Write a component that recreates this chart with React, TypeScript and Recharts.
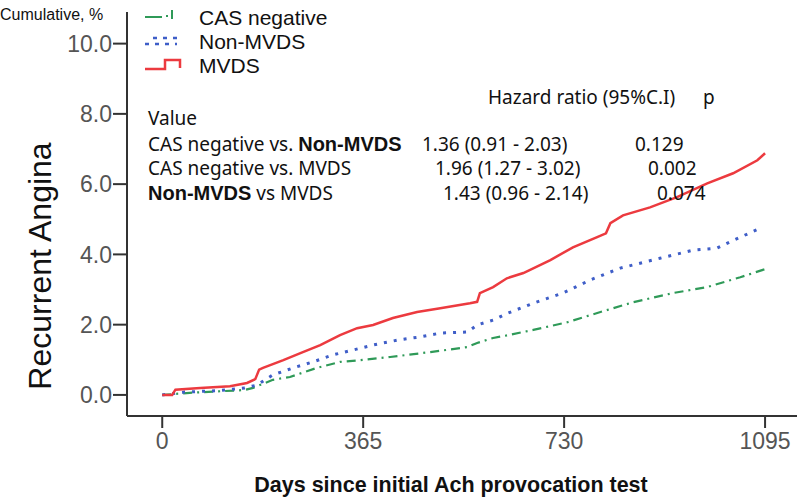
import { LineChart, Line, XAxis, YAxis } from "recharts";

// Kaplan-Meier style cumulative incidence (days, %)
const casNegDays = [0, 50, 100, 150, 165, 201, 232, 281, 323, 360, 414, 487, 554, 572, 601, 628, 674, 736, 796, 856, 928, 990, 1050, 1095];
const casNegVals = [0, 0.06, 0.1, 0.14, 0.2, 0.43, 0.51, 0.77, 0.94, 0.99, 1.08, 1.22, 1.36, 1.48, 1.62, 1.7, 1.85, 2.07, 2.36, 2.64, 2.9, 3.07, 3.35, 3.58];

const nonMvdsDays = [0, 40, 100, 150, 172, 201, 238, 274, 310, 347, 383, 427, 468, 505, 554, 572, 601, 628, 674, 728, 777, 832, 904, 964, 1008, 1037, 1090];
const nonMvdsVals = [0, 0.08, 0.12, 0.2, 0.28, 0.57, 0.77, 0.94, 1.14, 1.28, 1.42, 1.56, 1.65, 1.76, 1.79, 1.99, 2.13, 2.33, 2.61, 2.9, 3.27, 3.61, 3.89, 4.12, 4.18, 4.4, 4.77];

const mvdsDays = [0, 18, 24, 69, 123, 154, 169, 176, 183, 220, 251, 287, 323, 354, 383, 419, 463, 505, 559, 572, 577, 601, 626, 656, 705, 746, 790, 806, 814, 837, 886, 935, 990, 1037, 1081, 1095];
const mvdsVals = [0, 0.0, 0.15, 0.2, 0.25, 0.34, 0.45, 0.72, 0.77, 0.99, 1.19, 1.42, 1.7, 1.9, 1.99, 2.19, 2.36, 2.47, 2.61, 2.65, 2.9, 3.07, 3.32, 3.47, 3.84, 4.2, 4.49, 4.6, 4.89, 5.11, 5.34, 5.63, 6.02, 6.31, 6.68, 6.88];

const xTicks = [0, 365, 730, 1095];
const yTicks = [0, 2, 4, 6, 8, 10];

const legendNames = ["CAS negative", "Non-MVDS", "MVDS"];

const hazardRows = [
  { label: "CAS negative vs. ", bold: "Non-MVDS", rest: "", hr: "1.36 (0.91 - 2.03)", p: "0.129" },
  { label: "CAS negative vs. MVDS", bold: "", rest: "", hr: "1.96 (1.27 - 3.02)", p: "0.002" },
  { label: "", bold: "Non-MVDS", rest: " vs MVDS", hr: "1.43 (0.96 - 2.14)", p: "0.074" },
];

const toPoints = (days: number[], vals: number[]) =>
  days.map((d, i) => ({ day: d, value: vals[i] }));

const RED = "#ec3a3f";
const BLUE = "#3f5ec8";
const GREEN = "#2f9a58";

const tableFont = "'Noto Sans', 'Open Sans', sans-serif";
const tickFont = "'Liberation Sans Narrow', 'Arial Narrow', 'Liberation Sans', sans-serif";

function Txt({
  x,
  y,
  size,
  children,
  style,
}: {
  x: number;
  y: number;
  size: number;
  children: React.ReactNode;
  style?: React.CSSProperties;
}) {
  const lh = Math.round(size * 0.9);
  return (
    <div
      style={{
        position: "absolute",
        left: x,
        top: y - lh / 2,
        fontSize: size,
        lineHeight: `${lh}px`,
        whiteSpace: "nowrap",
        color: "#111",
        ...style,
      }}
    >
      {children}
    </div>
  );
}

export default function App() {
  const rowY = [144, 168, 193];
  const hrX = [422, 435, 443];
  const pX = [635, 648, 657];
  const legendY = [17.5, 41, 65];
  return (
    <div
      style={{
        position: "absolute",
        left: 0,
        top: 0,
        width: 800,
        height: 499,
        background: "#fff",
        fontFamily: "'Liberation Sans', Arial, sans-serif",
      }}
    >
      <LineChart
        width={800}
        height={499}
        margin={{ top: 12, right: 3, bottom: 0, left: 0 }}
      >
        <XAxis
          type="number"
          dataKey="day"
          domain={[-64, 1153]}
          ticks={xTicks}
          height={83}
          tickSize={12}
          tickMargin={5}
          stroke="#333"
          strokeWidth={2}
          tick={{ fontSize: 23, fill: "#555", fontFamily: tickFont }}
          allowDataOverflow
        />
        <YAxis
          type="number"
          domain={[-0.6, 10.9]}
          ticks={yTicks}
          width={127}
          tickSize={14}
          tickMargin={1}
          stroke="#333"
          strokeWidth={2}
          tick={{ fontSize: 23, fill: "#555", fontFamily: tickFont }}
          tickFormatter={(v: number) => v.toFixed(1)}
          allowDataOverflow
        />
        <Line
          data={toPoints(casNegDays, casNegVals)}
          dataKey="value"
          type="linear"
          stroke={GREEN}
          strokeWidth={2.2}
          strokeDasharray="9 5 2 5"
          dot={false}
          isAnimationActive={false}
        />
        <Line
          data={toPoints(nonMvdsDays, nonMvdsVals)}
          dataKey="value"
          type="linear"
          stroke={BLUE}
          strokeWidth={3}
          strokeDasharray="3 7"
          dot={false}
          isAnimationActive={false}
        />
        <Line
          data={toPoints(mvdsDays, mvdsVals)}
          dataKey="value"
          type="linear"
          stroke={RED}
          strokeWidth={2.5}
          dot={false}
          isAnimationActive={false}
        />
      </LineChart>

      {/* axis titles */}
      <Txt x={0} y={15} size={16}>Cumulative, %</Txt>
      <div
        style={{
          position: "absolute",
          left: 40,
          top: 266,
          transform: "translate(-50%, -50%) rotate(-90deg)",
          fontSize: 32,
          lineHeight: "32px",
          whiteSpace: "nowrap",
          color: "#111",
        }}
      >
        Recurrent Angina
      </div>
      <div
        style={{
          position: "absolute",
          left: 451,
          top: 485,
          transform: "translate(-50%, -50%)",
          fontSize: 21.5,
          fontWeight: "bold",
          whiteSpace: "nowrap",
          color: "#111",
        }}
      >
        Days since initial Ach provocation test
      </div>

      {/* legend */}
      <svg
        width={50}
        height={70}
        style={{ position: "absolute", left: 140, top: 5 }}
      >
        <path d="M5 12 H22 M26 11 H28 M32 5 V14" stroke={GREEN} strokeWidth={2} fill="none" />
        <path d="M5 39 H9 M15 39 H19 M25 39 H29 M35 39 H37 M13 33 H17 M23 33 H27 M33 33 H37" stroke={BLUE} strokeWidth={2.5} fill="none" />
        <path d="M5 64 H25 V55 H40 V63" stroke={RED} strokeWidth={2.5} fill="none" />
      </svg>
      {legendNames.map((name, i) => (
        <Txt key={name} x={199} y={legendY[i]} size={21}>
          {name}
        </Txt>
      ))}

      {/* hazard ratio table */}
      <Txt x={488} y={97} size={19} style={{ fontFamily: tableFont }}>
        Hazard ratio (95%C.I)
      </Txt>
      <Txt x={703} y={97} size={19} style={{ fontFamily: tableFont }}>
        p
      </Txt>
      <Txt x={148} y={118} size={19} style={{ fontFamily: tableFont }}>
        Value
      </Txt>
      {hazardRows.map((r, i) => (
        <div key={i}>
          <Txt x={148} y={rowY[i]} size={19} style={{ fontFamily: tableFont }}>
            {r.label}
            {r.bold && (
              <span style={{ fontFamily: "'Liberation Sans', Arial, sans-serif", fontWeight: "bold", fontSize: 20 }}>
                {r.bold}
              </span>
            )}
            {r.rest}
          </Txt>
          <Txt x={hrX[i]} y={rowY[i]} size={19} style={{ fontFamily: tableFont }}>
            {r.hr}
          </Txt>
          <Txt x={pX[i]} y={rowY[i]} size={19} style={{ fontFamily: tableFont }}>
            {r.p}
          </Txt>
        </div>
      ))}
    </div>
  );
}
